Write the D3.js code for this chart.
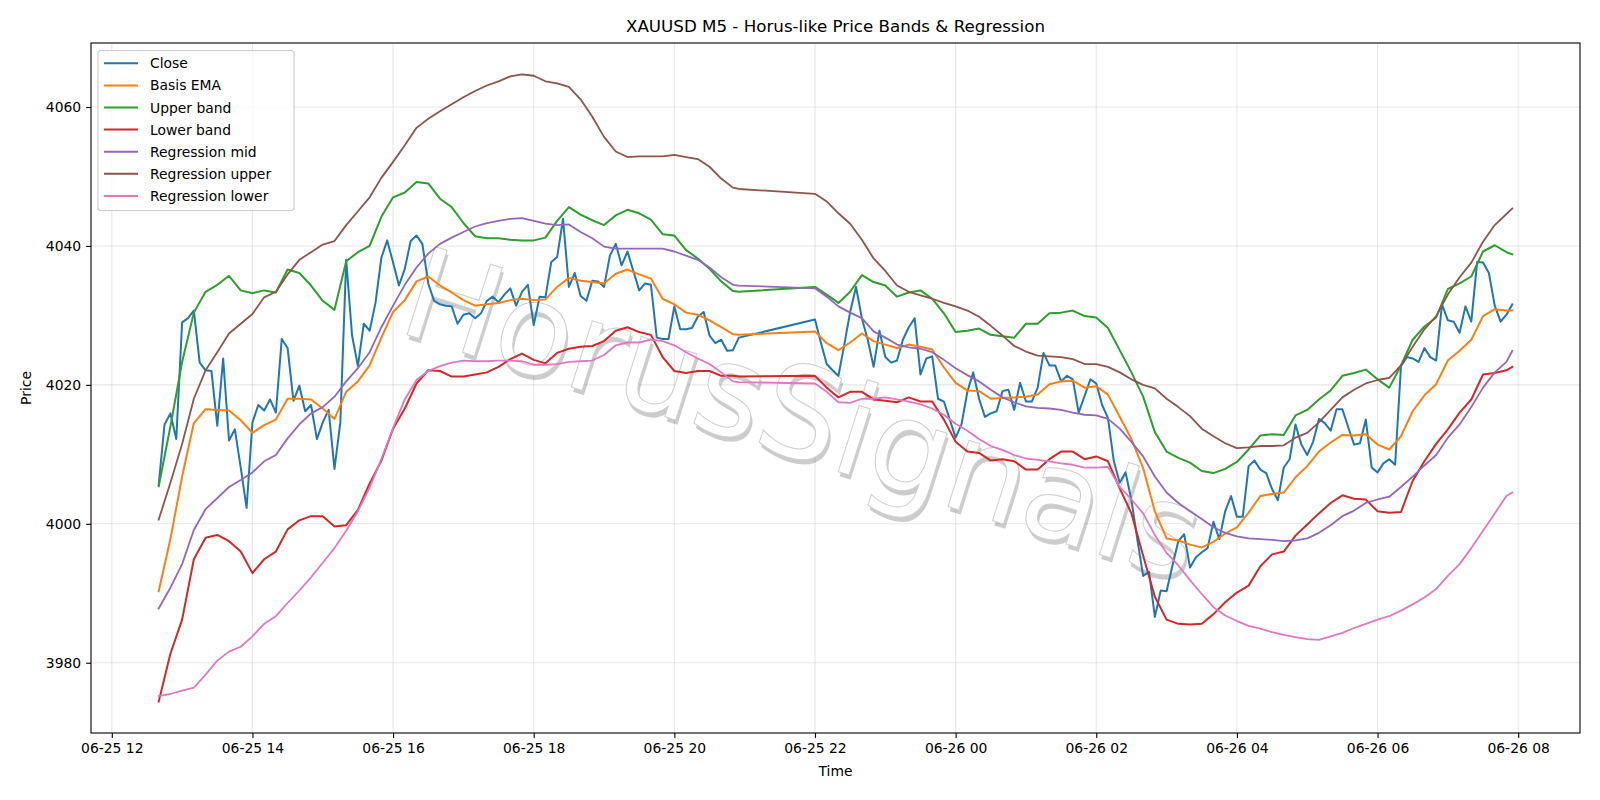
<!DOCTYPE html>
<html>
<head>
<meta charset="utf-8">
<script src="https://cdn.jsdelivr.net/npm/d3@7"></script>
<style>
  body { margin: 0; background: #fff; }
  #chart { margin: 0; }
  svg { display: block; font-family: "DejaVu Sans", sans-serif; }
</style>
</head>
<body>
<figure id="chart"></figure>
<script>
// Define the dimensions
let dimensions = {
    width: 1600,
    height: 800,
    margin: {
        top: 43,
        right: 20,
        bottom: 67,
        left: 91,
    },
};

dimensions.boundedWidth = dimensions.width - dimensions.margin.left - dimensions.margin.right;
dimensions.boundedHeight = dimensions.height - dimensions.margin.top - dimensions.margin.bottom;

// ---- data ----
// close is M5 (5 min bars), 12:40 -> 20:55 and 22:00 -> 07:55 (market break in between)
var closeValues = [
    4005.6, 4014.3, 4015.9, 4012.2,
    4029.0, 4029.6, 4030.7, 4023.2, 4022.1, 4022.0, 4014.1, 4023.8, 4012.0, 4013.6, 4008.1, 4002.3,
    4014.6, 4017.1, 4016.3, 4017.9, 4016.0, 4026.6, 4025.3, 4017.7, 4019.9, 4016.2, 4017.1, 4012.2,
    4014.6, 4016.4, 4007.9, 4014.6, 4038.0, 4027.1, 4022.7, 4028.8, 4027.8, 4031.8, 4038.3, 4040.8,
    4037.6, 4034.3, 4036.7, 4040.7, 4041.5, 4040.3, 4034.6, 4032.1, 4031.6, 4031.4, 4031.3, 4028.8,
    4030.1, 4030.3, 4029.6, 4030.3, 4032.1, 4032.7, 4031.9, 4033.0, 4033.9, 4031.4, 4033.4, 4034.4,
    4028.6, 4032.7, 4032.6, 4037.7, 4038.4, 4043.9, 4034.1, 4036.1, 4032.8, 4032.1, 4035.0, 4034.9,
    4034.1, 4038.6, 4040.3, 4037.2, 4039.2, 4036.4, 4033.6, 4034.6, 4034.4, 4026.8, 4026.6, 4026.6,
    4031.3, 4028.0, 4028.0, 4028.2, 4029.8, 4030.5, 4027.1, 4026.0, 4026.5, 4024.9, 4025.0, 4026.8,
    // 22:00 ->
    4029.4, 4026.1, 4023.0, 4022.1, 4021.3, 4025.8, 4030.5, 4034.1, 4029.6, 4026.5, 4022.6, 4027.8,
    4024.0, 4023.2, 4023.5, 4026.5, 4028.3, 4029.6, 4021.5, 4023.8, 4024.1, 4018.0, 4017.6, 4015.0,
    4012.4, 4014.3, 4019.0, 4021.8, 4018.0, 4015.4, 4015.9, 4016.2, 4019.1, 4019.3, 4016.4, 4020.3,
    4017.6, 4017.6, 4019.6, 4024.6, 4022.8, 4022.8, 4020.5, 4021.3, 4020.8, 4016.0, 4018.4, 4020.8,
    4020.2, 4017.1, 4015.2, 4009.0, 4005.9, 4007.4, 4003.4, 3997.8, 3992.5, 3993.1, 3986.6, 3990.4,
    3990.3, 3994.0, 3997.5, 3998.5, 3993.7, 3995.2, 3995.9, 3996.5, 4000.3, 3997.8, 4001.8, 4004.0,
    4001.0, 4001.0, 4008.3, 4009.1, 4007.8, 4007.3, 4005.0, 4003.4, 4008.1, 4009.3, 4014.3, 4011.4,
    4009.9, 4011.8, 4015.1, 4014.5, 4013.4, 4016.5, 4016.5, 4013.9, 4011.4, 4011.6, 4015.0, 4008.1,
    4007.4, 4008.7, 4009.3, 4008.5, 4022.7, 4024.0, 4023.8, 4023.3, 4025.3, 4024.0, 4023.5, 4031.6,
    4029.3, 4029.1, 4027.5, 4031.3, 4029.1, 4037.7, 4037.6, 4036.1, 4031.4, 4029.1, 4030.1, 4031.6
];

// indicator lines, read every 10 minutes (plus the last bar of each session)
var basisEma = [
    3990.3, 3997.8, 4006.8, 4014.5, 4016.5, 4016.4, 4016.3, 4014.9, 4013.1, 4014.2, 4015.0, 4018.0,
    4018.0, 4017.9, 4016.6, 4015.1, 4019.0, 4020.5, 4022.8, 4026.8, 4030.5, 4032.2, 4034.9, 4035.6,
    4034.3, 4033.3, 4032.2, 4031.4, 4031.6, 4031.8, 4032.2, 4032.4, 4032.2, 4032.3, 4034.1, 4035.4,
    4035.0, 4034.8, 4034.6, 4036.0, 4036.6, 4035.9, 4035.3, 4032.4, 4031.6, 4030.4, 4030.1, 4029.3,
    4028.3, 4027.3, 4027.2,
    4027.7, 4026.0, 4025.0, 4026.1, 4027.4, 4026.3, 4025.8, 4025.3, 4025.8, 4025.5, 4025.1, 4022.5,
    4020.3, 4019.2, 4019.1, 4018.0, 4018.1, 4018.2, 4018.3, 4018.6, 4020.1, 4020.5, 4020.6, 4019.6,
    4019.8, 4018.6, 4015.4, 4012.2, 4008.0, 4001.8, 3997.9, 3997.6, 3997.0, 3996.6, 3997.4, 3998.6,
    3999.5, 4001.6, 4004.0, 4004.3, 4004.5, 4006.7, 4008.3, 4010.4, 4011.7, 4012.8, 4012.7, 4012.9,
    4011.4, 4010.7, 4012.6, 4016.2, 4018.5, 4020.1, 4023.5, 4024.9, 4026.5, 4029.9, 4030.9, 4030.7,
    4030.7
];

var upperBand = [
    4005.4, 4014.0, 4023.3, 4030.4, 4033.4, 4034.4, 4035.7, 4033.6, 4033.2, 4033.6, 4033.3, 4036.6,
    4036.1, 4034.3, 4032.1, 4030.8, 4037.8, 4039.1, 4040.0, 4044.2, 4047.0, 4047.7, 4049.2, 4049.0,
    4046.8, 4045.6, 4043.3, 4041.4, 4041.1, 4041.1, 4040.9, 4040.8, 4040.8, 4041.2, 4043.6, 4045.6,
    4044.5, 4043.7, 4043.0, 4044.4, 4045.2, 4044.7, 4043.8, 4041.7, 4041.5, 4039.4, 4038.2, 4036.7,
    4034.9, 4033.5, 4033.4,
    4034.1, 4033.0, 4031.8, 4033.4, 4035.8, 4034.8, 4034.3, 4032.7, 4033.3, 4033.6, 4032.4, 4030.3,
    4027.6, 4027.8, 4028.1, 4027.2, 4027.0, 4026.8, 4028.8, 4028.8, 4030.3, 4030.4, 4030.7, 4029.9,
    4029.7, 4028.2, 4025.0, 4021.8, 4018.3, 4013.2, 4010.4, 4009.5, 4008.8, 4007.6, 4007.3, 4007.9,
    4008.9, 4010.7, 4012.7, 4012.9, 4012.8, 4015.6, 4016.4, 4017.9, 4019.2, 4021.3, 4021.7, 4022.2,
    4020.8, 4019.6, 4022.8, 4026.5, 4028.4, 4029.7, 4033.8, 4034.6, 4035.6, 4039.2, 4040.1, 4039.1,
    4038.8
];

var lowerBand = [
    3974.4, 3981.3, 3986.2, 3994.9, 3998.0, 3998.4, 3997.5, 3996.0, 3992.9, 3994.9, 3996.0, 3999.2,
    4000.5, 4001.1, 4001.1, 3999.6, 3999.8, 4002.0, 4005.8, 4009.1, 4013.7, 4016.6, 4020.2, 4022.1,
    4022.0, 4021.2, 4021.2, 4021.5, 4021.8, 4022.6, 4023.7, 4024.5, 4023.6, 4023.1, 4024.6, 4025.2,
    4025.5, 4025.6, 4026.3, 4027.8, 4028.3, 4027.6, 4027.2, 4024.0, 4022.0, 4021.7, 4022.0, 4022.0,
    4021.3, 4021.3, 4021.2,
    4021.3, 4019.6, 4018.2, 4019.0, 4019.0, 4017.9, 4017.7, 4017.5, 4018.2, 4017.6, 4017.6, 4015.0,
    4011.8, 4010.4, 4010.2, 4009.1, 4009.3, 4009.0, 4007.8, 4007.8, 4009.3, 4010.4, 4010.4, 4009.3,
    4009.7, 4009.0, 4005.1, 4001.5, 3995.4, 3989.5, 3986.2, 3985.6, 3985.5, 3985.6, 3987.0, 3988.7,
    3990.1, 3991.1, 3993.9, 3995.6, 3996.0, 3998.3, 3999.9, 4001.5, 4003.0, 4004.1, 4003.6, 4003.5,
    4001.8, 4001.6, 4001.7, 4006.2, 4009.0, 4011.5, 4013.6, 4016.0, 4017.9, 4021.5, 4021.7, 4022.1,
    4022.6
];

var regMid = [
    3987.8, 3990.8, 3994.2, 3999.1, 4002.1, 4003.7, 4005.3, 4006.3, 4007.4, 4009.0, 4009.9, 4012.3,
    4014.3, 4015.9, 4016.8, 4018.3, 4020.5, 4022.4, 4024.7, 4028.3, 4031.4, 4034.4, 4036.9, 4038.9,
    4040.3, 4041.2, 4042.0, 4042.8, 4043.3, 4043.6, 4043.9, 4044.0, 4043.6, 4043.2, 4043.0, 4043.1,
    4042.0, 4041.1, 4039.9, 4039.6, 4039.6, 4039.6, 4039.6, 4039.6, 4039.2, 4038.6, 4038.0, 4036.9,
    4035.5, 4034.4, 4034.3,
    4033.9, 4032.7, 4031.3, 4030.4, 4029.6, 4027.7, 4026.8, 4025.8, 4025.4, 4025.2, 4024.7, 4023.6,
    4022.4, 4021.4, 4020.5, 4019.3, 4018.2, 4017.5, 4016.9, 4016.7, 4016.6, 4016.4, 4016.0, 4015.7,
    4015.6, 4015.1, 4013.7, 4011.8, 4009.7, 4006.8, 4004.5, 4003.0, 4001.8, 4000.7, 3999.5, 3998.7,
    3998.2, 3997.9, 3997.8, 3997.7, 3997.5, 3997.6, 3997.9, 3998.7, 3999.8, 4001.1, 4001.9, 4003.0,
    4003.5, 4003.9, 4005.3, 4006.8, 4008.4, 4009.9, 4012.4, 4014.3, 4016.8, 4019.6, 4021.8, 4023.3,
    4024.9
];

var regUpper = [
    4000.6, 4005.9, 4011.5, 4018.0, 4022.1, 4024.7, 4027.4, 4028.8, 4030.2, 4032.6, 4033.4, 4035.9,
    4038.0, 4039.1, 4040.2, 4040.7, 4043.0, 4045.0, 4047.0, 4049.8, 4052.1, 4054.5, 4057.0, 4058.3,
    4059.4, 4060.4, 4061.4, 4062.3, 4063.1, 4063.7, 4064.4, 4064.7, 4064.5, 4063.7, 4063.4, 4062.9,
    4061.1, 4058.6, 4055.7, 4053.6, 4052.8, 4052.9, 4052.9, 4052.9, 4053.1, 4052.8, 4052.5, 4051.4,
    4049.7, 4048.4, 4048.2,
    4047.5, 4046.4, 4044.7, 4043.2, 4040.9, 4038.2, 4036.4, 4034.3, 4033.4, 4032.9, 4032.4, 4031.8,
    4031.3, 4030.7, 4029.8, 4028.5, 4027.1, 4025.6, 4024.8, 4024.2, 4024.1, 4024.0, 4023.7, 4023.0,
    4023.0, 4022.6, 4021.8, 4020.8, 4020.0, 4019.5, 4018.0, 4016.8, 4015.5, 4013.7, 4012.6, 4011.6,
    4010.9, 4011.0, 4011.2, 4011.2, 4011.3, 4012.4, 4013.1, 4014.6, 4016.4, 4018.2, 4019.3, 4020.2,
    4020.7, 4021.0, 4022.8, 4025.5, 4028.0, 4029.9, 4033.0, 4035.5, 4037.6, 4040.6, 4043.0, 4044.6,
    4045.4
];

var regLower = [
    3975.2, 3975.5, 3976.0, 3976.4, 3978.3, 3980.3, 3981.6, 3982.3, 3983.8, 3985.6, 3986.7, 3988.6,
    3990.4, 3992.3, 3994.4, 3996.5, 3999.0, 4001.8, 4005.2, 4009.3, 4013.8, 4017.9, 4020.7, 4022.0,
    4022.7, 4023.2, 4023.5, 4023.4, 4023.4, 4023.5, 4023.5, 4023.4, 4022.9, 4022.9, 4023.0, 4023.3,
    4023.4, 4023.5, 4024.3, 4025.7, 4026.1, 4026.1, 4026.5, 4026.3, 4025.7, 4024.7, 4023.8, 4023.0,
    4021.8, 4020.5, 4020.4,
    4020.2, 4019.0, 4017.5, 4017.4, 4018.0, 4018.0, 4018.2, 4017.9, 4017.6, 4017.2, 4016.6, 4015.7,
    4014.4, 4013.4, 4012.2, 4011.2, 4010.6, 4009.9, 4009.4, 4009.2, 4009.0, 4008.7, 4008.5, 4008.1,
    4008.1, 4008.2, 4005.3, 4003.5, 4001.5, 3998.4, 3995.8, 3994.0, 3991.9, 3989.9, 3988.0, 3986.8,
    3986.0, 3985.3, 3984.9, 3984.4, 3984.0, 3983.7, 3983.4, 3983.3, 3983.8, 3984.3, 3985.0, 3985.6,
    3986.2, 3986.7, 3987.5, 3988.4, 3989.4, 3990.6, 3992.5, 3994.2, 3996.5, 3999.0, 4001.5, 4004.0,
    4004.5
];

var yTicks = [3980, 4000, 4020, 4040, 4060];
var titleText = "XAUUSD M5 - Horus-like Price Bands & Regression";
var watermarkText = "HorusSignals";

// ---- time axis categories ----
var parseTime = d3.utcParse("%Y-%m-%d %H:%M");
var every5 = d3.utcMinute.every(5);
var every10 = d3.utcMinute.every(10);

var closeTimes = every5.range(parseTime("2025-06-25 12:40"), parseTime("2025-06-25 21:00"))
    .concat(every5.range(parseTime("2025-06-25 22:00"), parseTime("2025-06-26 08:00")));

var bandTimes = every10.range(parseTime("2025-06-25 12:40"), parseTime("2025-06-25 20:55"))
    .concat([parseTime("2025-06-25 20:55")])
    .concat(every10.range(parseTime("2025-06-25 22:00"), parseTime("2025-06-26 07:55")))
    .concat([parseTime("2025-06-26 07:55")]);

var series = [
    { name: "Close", times: closeTimes, values: closeValues, color: "#1f77b4" },
    { name: "Basis EMA", times: bandTimes, values: basisEma, color: "#ff7f0e" },
    { name: "Upper band", times: bandTimes, values: upperBand, color: "#2ca02c" },
    { name: "Lower band", times: bandTimes, values: lowerBand, color: "#d62728" },
    { name: "Regression mid", times: bandTimes, values: regMid, color: "#9467bd" },
    { name: "Regression upper", times: bandTimes, values: regUpper, color: "#8c564b" },
    { name: "Regression lower", times: bandTimes, values: regLower, color: "#e377c2" },
];

var svgRoot = d3.select("figure#chart")
    .append("svg")
    .attr("width", dimensions.width)
    .attr("height", dimensions.height);

svgRoot.append("rect")
    .attr("width", dimensions.width)
    .attr("height", dimensions.height)
    .attr("fill", "#fff");

var svg = svgRoot.append("g")
    .attr("transform", `translate(${dimensions.margin.left}, ${dimensions.margin.top})`);

// matplotlib style autoscale: data extent + 5% each side
var tExtent = d3.extent(closeTimes);
var tPad = (tExtent[1] - tExtent[0]) * 0.05;
var xScale = d3.scaleUtc()
    .domain([new Date(+tExtent[0] - tPad), new Date(+tExtent[1] + tPad)])
    .range([0, dimensions.boundedWidth]);

var allValues = d3.merge(series.map(s => s.values));
var vExtent = d3.extent(allValues);
var vPad = (vExtent[1] - vExtent[0]) * 0.05;
var yScale = d3.scaleLinear()
    .domain([vExtent[0] - vPad, vExtent[1] + vPad])
    .range([dimensions.boundedHeight, 0]);

var xTicks = xScale.ticks(d3.utcHour.every(2));

// grid
var grid = svg.append("g").attr("class", "grid")
    .attr("stroke", "#b0b0b0")
    .attr("stroke-opacity", 0.3)
    .attr("stroke-width", 1.1);

grid.selectAll("line.gx")
    .data(xTicks)
    .enter()
    .append("line")
    .attr("class", "gx")
    .attr("x1", d => xScale(d))
    .attr("x2", d => xScale(d))
    .attr("y1", 0)
    .attr("y2", dimensions.boundedHeight);

grid.selectAll("line.gy")
    .data(yTicks)
    .enter()
    .append("line")
    .attr("class", "gy")
    .attr("x1", 0)
    .attr("x2", dimensions.boundedWidth)
    .attr("y1", d => yScale(d))
    .attr("y2", d => yScale(d));

// watermark (white letters, grey edge and a soft drop shadow)
var wmX = dimensions.boundedWidth * 0.4694;
var wmY = dimensions.boundedHeight * 0.599;
var wm = svg.append("g")
    .attr("transform", `rotate(17.6, ${wmX}, ${wmY})`)
    .attr("font-size", 127)
    .attr("text-anchor", "middle");

wm.append("text")
    .attr("x", wmX + 3)
    .attr("y", wmY + 4)
    .attr("fill", "#000")
    .attr("fill-opacity", 0.2)
    .text(watermarkText);

wm.append("text")
    .attr("x", wmX)
    .attr("y", wmY)
    .attr("fill", "#fff")
    .attr("stroke", "#cfcfcf")
    .attr("stroke-width", 1)
    .text(watermarkText);

// lines
var lines = svg.append("g").attr("class", "lines");

lines.selectAll("path")
    .data(series)
    .enter()
    .append("path")
    .attr("fill", "none")
    .attr("stroke", d => d.color)
    .attr("stroke-width", d => d.name.startsWith("Regression") ? 1.8 : 2)
    .attr("stroke-linejoin", "round")
    .attr("stroke-linecap", "square")
    .attr("d", s => d3.line()
        .x((v, i) => xScale(s.times[i]))
        .y(v => yScale(v))(s.values));

// axes
var xAxis = svg.append("g")
    .attr("class", "x axis")
    .attr("transform", `translate(0, ${dimensions.boundedHeight})`)
    .call(d3.axisBottom(xScale)
        .tickValues(xTicks)
        .tickFormat(d3.utcFormat("%m-%d %H"))
        .tickSize(4.9)
        .tickPadding(4.9));

var yAxis = svg.append("g")
    .attr("class", "y axis")
    .call(d3.axisLeft(yScale)
        .tickValues(yTicks)
        .tickFormat(d3.format("d"))
        .tickSize(4.9)
        .tickPadding(4.9));

svg.selectAll(".axis .domain").remove();
svg.selectAll(".axis line").attr("stroke", "#000").attr("stroke-width", 1.1);
svg.selectAll(".axis text")
    .attr("fill", "#000")
    .attr("font-size", "13.9px")
    .attr("font-family", "DejaVu Sans, sans-serif");

// frame
svg.append("rect")
    .attr("width", dimensions.boundedWidth)
    .attr("height", dimensions.boundedHeight)
    .attr("fill", "none")
    .attr("stroke", "#000")
    .attr("stroke-width", 1.1);

// titles
svg.append("text")
    .attr("x", dimensions.boundedWidth / 2)
    .attr("y", -11)
    .attr("text-anchor", "middle")
    .attr("font-size", "16.7px")
    .text(titleText);

svg.append("text")
    .attr("x", dimensions.boundedWidth / 2)
    .attr("y", dimensions.boundedHeight + 38)
    .attr("text-anchor", "middle")
    .attr("dominant-baseline", "central")
    .attr("font-size", "13.9px")
    .text("Time");

svg.append("text")
    .attr("transform", `translate(${25.5 - dimensions.margin.left}, ${dimensions.boundedHeight / 2}) rotate(-90)`)
    .attr("text-anchor", "middle")
    .attr("dominant-baseline", "central")
    .attr("font-size", "13.9px")
    .text("Price");

// legend
var legend = svg.append("g")
    .attr("transform", "translate(7, 7.5)");

legend.append("rect")
    .attr("width", 196)
    .attr("height", 160)
    .attr("rx", 3)
    .attr("fill", "#fff")
    .attr("fill-opacity", 0.8)
    .attr("stroke", "#cccccc")
    .attr("stroke-width", 1.1);

var rows = legend.selectAll("g.row")
    .data(series)
    .enter()
    .append("g")
    .attr("class", "row")
    .attr("transform", (d, i) => `translate(0, ${12.8 + i * 22.1})`);

rows.append("line")
    .attr("x1", 6)
    .attr("x2", 40)
    .attr("stroke", d => d.color)
    .attr("stroke-width", 2);

rows.append("text")
    .attr("x", 52)
    .attr("dominant-baseline", "central")
    .attr("font-size", "13.9px")
    .text(d => d.name);
</script>
</body>
</html>
